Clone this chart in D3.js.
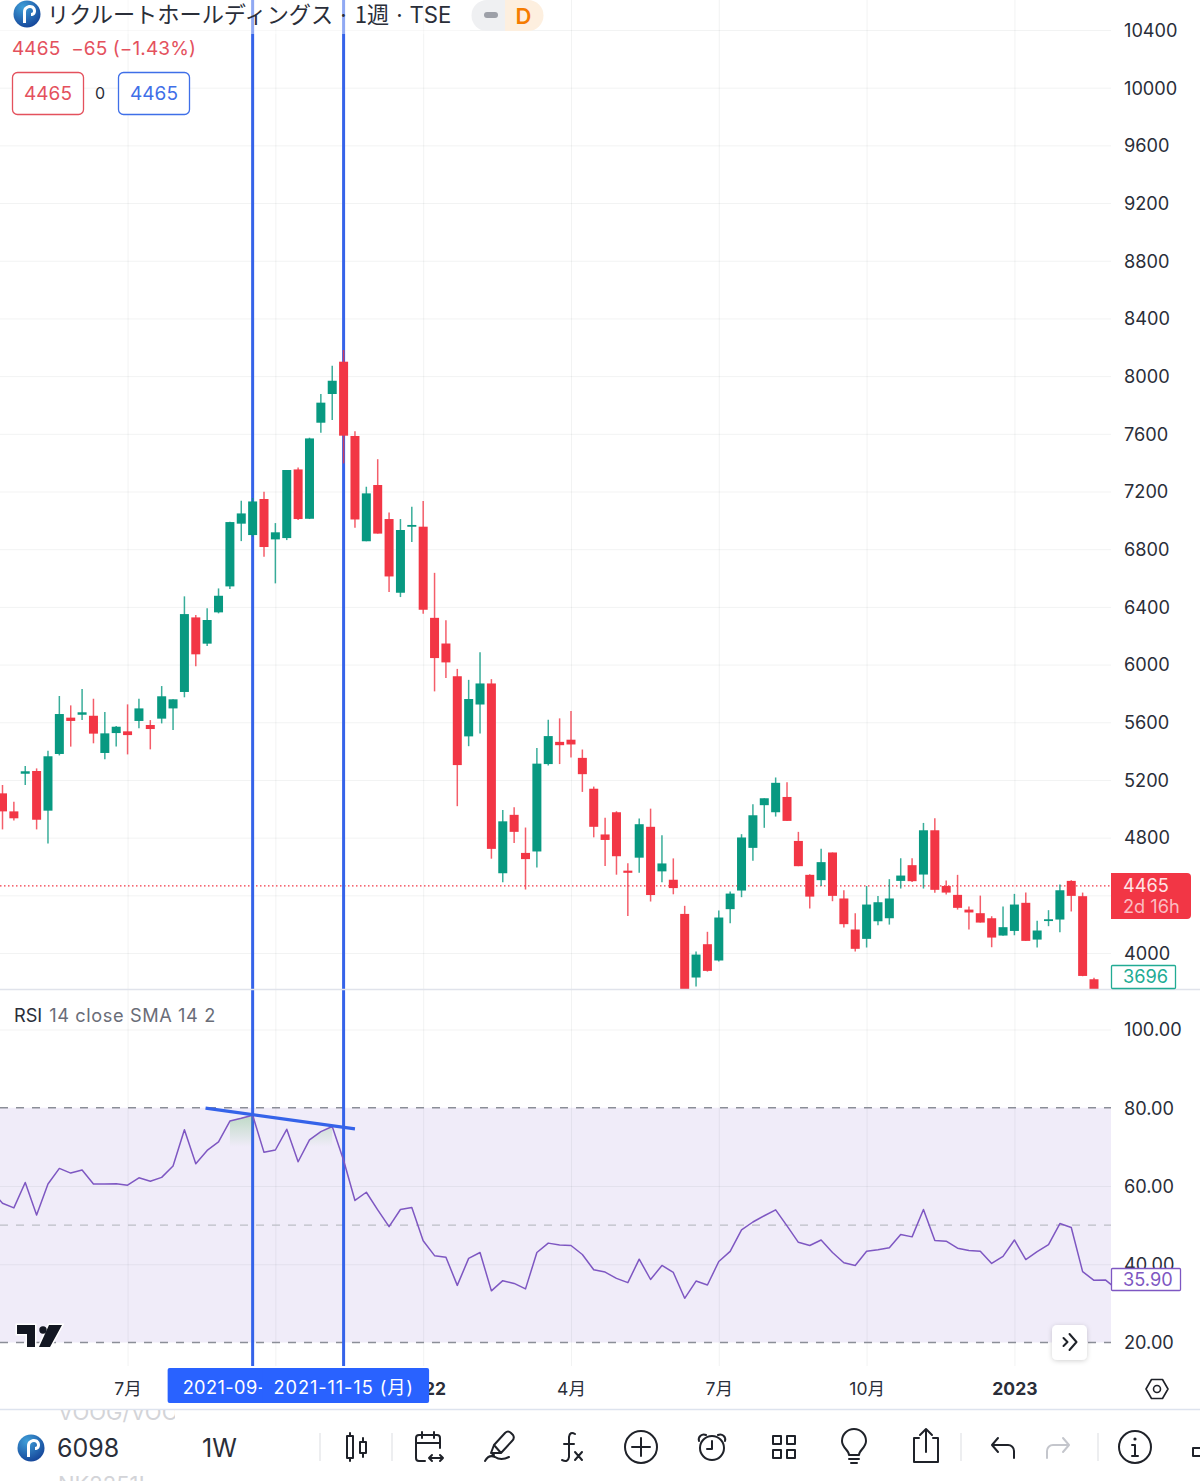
<!DOCTYPE html>
<html lang="ja">
<head>
<meta charset="utf-8">
<title>リクルートホールディングス 1週</title>
<script src="https://cdn.jsdelivr.net/npm/d3@7"></script>
<style>
  html, body { margin: 0; background: #fff; }
  svg { display: block; font-family: Inter, "Noto Sans CJK JP", sans-serif; }
  .grid line { stroke: rgba(42, 46, 57, 0.06); stroke-width: 1; }
  .grid path, .axis path { display: none; }
  .axis text { font-family: Inter, "Noto Sans CJK JP", sans-serif; font-size: 18.2px; fill: #2a2e39; }
  .icon { fill: none; stroke: #1f2229; stroke-width: 2; stroke-linecap: round; stroke-linejoin: round; }
</style>
</head>
<body>
<div id="chart"></div>
<script>
// Weekly candles, left to right, starting with the week of 2021-04-19
const candleOpen = [
  5107, 4982, 5243, 5262, 4987, 5380, 5632, 5652, 5645, 5387,
  5525, 5537, 5609, 5581, 5625, 5696, 5810, 6327, 6145, 6362,
  6542, 6977, 6898, 7148, 6868, 6877, 7353, 7011, 7677, 7876,
  8100, 7585, 6855, 7245, 7009, 6498, 6961, 6956, 6324, 6146,
  5919, 5502, 5723, 5869, 4553, 4958, 4694, 4704, 5310, 5464,
  5479, 5353, 5139, 4822, 4976, 4571, 4661, 4875, 4566, 4508,
  4271, 3830, 4061, 3948, 4304, 4433, 4729, 5025, 4976, 5082,
  4777, 4542, 4505, 4697, 4378, 4163, 4098, 4220, 4241, 4500,
  4609, 4544, 4851, 4465, 4403, 4301, 4276, 4241, 4121, 4153,
  4348, 4093, 4225, 4232, 4500, 4394, 3818
];
const candleHigh = [
  5165, 5049, 5297, 5280, 5403, 5782, 5717, 5830, 5763, 5671,
  5574, 5724, 5763, 5615, 5851, 5759, 6473, 6343, 6390, 6528,
  6991, 7136, 7155, 7198, 6981, 7349, 7367, 7573, 7876, 8072,
  8181, 7617, 7233, 7424, 7054, 7009, 7094, 7134, 6636, 6307,
  5970, 5894, 6085, 5899, 4991, 5011, 4870, 5421, 5617, 5627,
  5678, 5411, 5154, 4938, 4983, 4623, 4933, 5001, 4817, 4656,
  4327, 4010, 4147, 4294, 4426, 4824, 5032, 5073, 5217, 5184,
  4840, 4546, 4722, 4697, 4435, 4276, 4465, 4396, 4512, 4657,
  4657, 4902, 4935, 4502, 4542, 4322, 4398, 4255, 4322, 4410,
  4419, 4223, 4297, 4475, 4505, 4419, 3828
];
const candleLow = [
  4857, 4918, 5165, 4857, 4760, 5370, 5431, 5615, 5454, 5343,
  5431, 5377, 5558, 5412, 5592, 5546, 5773, 5988, 6129, 6355,
  6524, 6856, 6887, 6748, 6563, 6863, 7002, 7009, 7608, 7695,
  7395, 6948, 6855, 6908, 6503, 6468, 6850, 6352, 5814, 5907,
  5018, 5434, 5522, 4654, 4490, 4762, 4440, 4593, 5300, 5310,
  5356, 5117, 4802, 4603, 4543, 4256, 4556, 4357, 4490, 4407,
  3650, 3768, 3871, 3941, 4207, 4387, 4639, 4868, 4946, 4916,
  4602, 4308, 4465, 4359, 4177, 4010, 4038, 4193, 4197, 4447,
  4493, 4447, 4417, 4405, 4301, 4163, 4211, 4040, 4119, 4123,
  4084, 4038, 4186, 4144, 4288, 3839, 3696
];
const candleClose = [
  4982, 4934, 5260, 4924, 5364, 5657, 5609, 5669, 5521, 5523,
  5569, 5511, 5696, 5553, 5780, 5759, 6350, 6071, 6309, 6477,
  6988, 7048, 7131, 6815, 6917, 7349, 7009, 7568, 7816, 7968,
  7587, 7006, 7187, 6908, 6611, 6933, 6968, 6380, 6045, 6015,
  5303, 5761, 5869, 4722, 4913, 4840, 4651, 5313, 5504, 5441,
  5446, 5240, 4875, 4784, 4671, 4556, 4893, 4402, 4621, 4450,
  3700, 3989, 3876, 4246, 4412, 4801, 4955, 5073, 5180, 4916,
  4602, 4391, 4630, 4396, 4200, 4029, 4336, 4352, 4378, 4537,
  4498, 4851, 4438, 4419, 4313, 4281, 4211, 4107, 4179, 4336,
  4084, 4156, 4234, 4435, 4396, 3841, 3696
];

// RSI starts one week before the first candle and runs on past the last visible one
const rsiValues = [
  58.9, 55.6, 54.4, 60.9, 52.6, 60.5, 64.5, 63.3, 64.1, 60.5,
  60.5, 60.6, 60.2, 62.1, 61.2, 62.2, 65.1, 74.4, 65.7, 69.1,
  71.3, 76.6, 77.3, 78.1, 68.6, 69.2, 74.5, 66.2, 71.8, 73.9,
  75.2, 66.6, 56.3, 58.4, 53.9, 49.6, 54.0, 54.5, 46.0, 42.2,
  41.8, 34.6, 41.5, 43.0, 33.2, 35.8, 35.1, 33.7, 43.0, 45.4,
  44.9, 44.8, 42.5, 38.6, 38.0, 36.4, 35.3, 41.3, 36.1, 39.7,
  37.9, 31.3, 35.7, 34.7, 40.7, 43.3, 48.8, 50.8, 52.4, 53.9,
  49.8, 45.6, 44.8, 46.2, 43.0, 40.4, 39.7, 43.3, 43.7, 44.2,
  47.6, 47.0, 54.0, 46.1, 45.9, 44.1, 43.5, 43.3, 40.2, 42.0,
  46.2, 41.2, 43.2, 45.0, 50.4, 49.4, 38.1, 35.9, 36.0, 33.6
];

const priceTicks = [10400, 10000, 9600, 9200, 8800, 8400, 8000, 7600, 7200, 6800, 6400, 6000, 5600, 5200, 4800, 4000];
const priceGridTicks = [10400, 10000, 9600, 9200, 8800, 8400, 8000, 7600, 7200, 6800, 6400, 6000, 5600, 5200, 4800, 4400, 4000];
const rsiTicks = [100, 80, 60, 40, 20];
const rsiGridTicks = [100, 60, 40];
const tickDates = ["2021-07-05", "2021-10-04", "2022-01-03", "2022-04-04", "2022-07-04", "2022-10-03", "2023-01-02"];
// the October 2021 label sits under the date flags, so it stays empty
const tickLabels = ["7月", "", "2022", "4月", "7月", "10月", "2023"];

const lastPrice = 4465;
const markerDates = ["2021-09-20", "2021-11-15"];
const markerLabels = ["2021-09-", "2021-11-15 (月)"];
const trendDates = ["2021-08-22", "2021-11-22"];
const trendValues = [79.9, 74.6];
// runs of weeks (indexes into rsiValues) with the green overbought glow
const rsiGlowRuns = [[21, 23], [28, 30]];

const width = 1200, height = 1481;
const paneRight = 1111;
const blue = "#3563e9", red = "#f23645", green = "#089981", purple = "#7e57c2";

const parseDay = d3.utcParse("%Y-%m-%d");
const firstWeek = parseDay("2021-04-19");
const weekDates = candleOpen.map((_, i) => d3.utcMonday.offset(firstWeek, i));
const rsiDates = rsiValues.map((_, i) => d3.utcMonday.offset(firstWeek, i - 1));

const x = d3.scaleUtc().domain([weekDates[0], weekDates[96]]).range([2.5, 1094]);
const priceY = d3.scaleLinear().domain([4000, 10400]).range([953, 30]);
const rsiY = d3.scaleLinear().domain([20, 100]).range([1342.5, 1029.5]);

const svg = d3.select("#chart").append("svg").attr("width", width).attr("height", height);
const defs = svg.append("defs");

defs.append("clipPath").attr("id", "price-clip").append("rect")
  .attr("width", paneRight).attr("height", 989);
defs.append("clipPath").attr("id", "rsi-clip").append("rect")
  .attr("y", 990).attr("width", paneRight).attr("height", 400);
defs.append("clipPath").attr("id", "ghost-clip").append("rect")
  .attr("y", 1410).attr("width", 175).attr("height", 71);

const glow = defs.append("linearGradient").attr("id", "rsi-glow")
  .attr("gradientUnits", "userSpaceOnUse")
  .attr("x1", 0).attr("x2", 0).attr("y1", rsiY(78)).attr("y2", rsiY(70));
glow.append("stop").attr("offset", 0).attr("stop-color", "#4caf50").attr("stop-opacity", 0.3);
glow.append("stop").attr("offset", 1).attr("stop-color", "#4caf50").attr("stop-opacity", 0);

const logoFill = defs.append("radialGradient").attr("id", "logo-fill")
  .attr("cx", "35%").attr("cy", "25%").attr("r", "85%");
logoFill.append("stop").attr("offset", 0).attr("stop-color", "#3f9fd8");
logoFill.append("stop").attr("offset", 1).attr("stop-color", "#123f95");

const shadow = defs.append("filter").attr("id", "soft-shadow")
  .attr("x", "-30%").attr("y", "-30%").attr("width", "160%").attr("height", "160%");
shadow.append("feDropShadow").attr("dx", 0).attr("dy", 1).attr("stdDeviation", 2.5)
  .attr("flood-color", "#000").attr("flood-opacity", 0.18);

// ---- grids and RSI band ----
svg.append("rect").attr("y", rsiY(80)).attr("width", paneRight)
  .attr("height", rsiY(20) - rsiY(80)).attr("fill", "#f0ecf9");

svg.append("g").attr("class", "grid")
  .attr("transform", `translate(${paneRight},0)`)
  .call(d3.axisLeft(priceY).tickValues(priceGridTicks).tickSize(paneRight).tickFormat(""));

svg.append("g").attr("class", "grid")
  .attr("transform", `translate(${paneRight},0)`)
  .call(d3.axisLeft(rsiY).tickValues(rsiGridTicks).tickSize(paneRight).tickFormat(""));

svg.append("g").attr("class", "grid")
  .attr("transform", "translate(0,1366)")
  .call(d3.axisBottom(x).tickValues(tickDates.map(parseDay)).tickSize(-1366).tickFormat(""));

[[80, "#8b8e98"], [50, "#bcbec6"], [20, "#8b8e98"]].forEach(([level, colour]) => {
  svg.append("line")
    .attr("x1", 0).attr("x2", paneRight)
    .attr("y1", rsiY(level)).attr("y2", rsiY(level))
    .attr("stroke", colour).attr("stroke-width", 1.4).attr("stroke-dasharray", "8 8");
});

// ---- last price line ----
svg.append("line")
  .attr("x1", 0).attr("x2", paneRight)
  .attr("y1", priceY(lastPrice)).attr("y2", priceY(lastPrice))
  .attr("stroke", red).attr("stroke-width", 1.3).attr("stroke-dasharray", "1.5 2.5");

// ---- the two vertical markers ----
markerDates.map(parseDay).forEach(day => {
  svg.append("line")
    .attr("x1", x(day)).attr("x2", x(day))
    .attr("y1", 0).attr("y2", 1366)
    .attr("stroke", blue).attr("stroke-width", 3);
});

// ---- candles ----
const candles = candleOpen.map((open, i) => ({
  date: weekDates[i], open, high: candleHigh[i], low: candleLow[i], close: candleClose[i]
}));
const candleColour = d => d.close >= d.open ? green : red;

const candleG = svg.append("g").attr("clip-path", "url(#price-clip)");

candleG.selectAll("line.wick")
  .data(candles)
  .enter()
  .append("line")
  .attr("class", "wick")
  .attr("x1", d => x(d.date))
  .attr("x2", d => x(d.date))
  .attr("y1", d => priceY(d.high))
  .attr("y2", d => priceY(d.low))
  .attr("stroke", candleColour)
  .attr("stroke-width", 1.5)
  .attr("opacity", 0.8);

candleG.selectAll("rect.body")
  .data(candles)
  .enter()
  .append("rect")
  .attr("class", "body")
  .attr("x", d => x(d.date) - 4.5)
  .attr("width", 9)
  .attr("y", d => priceY(Math.max(d.open, d.close)))
  .attr("height", d => Math.max(1.8, Math.abs(priceY(d.open) - priceY(d.close))))
  .attr("fill", candleColour);

// ---- RSI ----
const rsiPoints = rsiValues.map((value, i) => ({ date: rsiDates[i], value }));
const rsiG = svg.append("g").attr("clip-path", "url(#rsi-clip)");

const glowArea = d3.area()
  .x(d => x(d.date))
  .y0(rsiY(70))
  .y1(d => rsiY(d.value));
rsiGlowRuns.forEach(([from, to]) => {
  rsiG.append("path")
    .attr("d", glowArea(rsiPoints.slice(from, to + 1)))
    .attr("fill", "url(#rsi-glow)");
});

rsiG.append("path")
  .attr("d", d3.line().x(d => x(d.date)).y(d => rsiY(d.value))(rsiPoints))
  .attr("fill", "none")
  .attr("stroke", purple)
  .attr("stroke-width", 1.5)
  .attr("stroke-linejoin", "round");

// hand-drawn trend line across the two RSI peaks
svg.append("line")
  .attr("x1", x(parseDay(trendDates[0]))).attr("y1", rsiY(trendValues[0]))
  .attr("x2", x(parseDay(trendDates[1]))).attr("y2", rsiY(trendValues[1]))
  .attr("stroke", blue).attr("stroke-width", 3.4);

// pane separator
svg.append("line")
  .attr("x1", 0).attr("x2", width).attr("y1", 989.5).attr("y2", 989.5)
  .attr("stroke", "#e0e3eb").attr("stroke-width", 1.5);

// ---- value axes ----
svg.append("g").attr("class", "axis")
  .attr("transform", `translate(${paneRight},0.5)`)
  .call(d3.axisRight(priceY).tickValues(priceTicks).tickSize(0).tickPadding(13).tickFormat(d3.format("d")));

svg.append("g").attr("class", "axis")
  .attr("transform", `translate(${paneRight},0.5)`)
  .call(d3.axisRight(rsiY).tickValues(rsiTicks).tickSize(0).tickPadding(13).tickFormat(d3.format(".2f")));

// ---- time axis ----
const timeAxis = svg.append("g").attr("class", "axis")
  .attr("transform", "translate(0,1389)")
  .call(d3.axisBottom(x).tickValues(tickDates.map(parseDay)).tickSize(0)
    .tickFormat((d, i) => tickLabels[i]));
timeAxis.selectAll("text")
  .attr("dy", "0.36em").attr("y", 0)
  .style("font-size", "17.5px")
  .style("font-weight", (d, i) => /^\d{4}$/.test(tickLabels[i]) ? 700 : 400);

// date flags on the axis, the later one on top and hiding the end of the earlier one
markerDates.map(parseDay).forEach((day, i) => {
  svg.append("rect")
    .attr("x", x(day) - (i === 0 ? 85 : 81.5)).attr("y", 1368)
    .attr("width", i === 0 ? 170 : 167).attr("height", 35)
    .attr("rx", 2).attr("fill", "#2962ff");
  svg.append("text")
    .attr("x", x(day) - 70).attr("y", 1394)
    .attr("font-size", 18.2).attr("fill", "#fff")
    .attr("letter-spacing", i === 0 ? 0.4 : 0.9)
    .text(markerLabels[i]);
});

// ---- price labels on the right ----
svg.append("path")
  .attr("d", "M1111 873H1187a4 4 0 0 1 4 4V915a4 4 0 0 1-4 4H1111Z")
  .attr("fill", red);
svg.append("text").attr("x", 1123).attr("y", 892).attr("font-size", 18.2).attr("fill", "#ffe3e5").text(lastPrice);
svg.append("text").attr("x", 1123).attr("y", 913).attr("font-size", 18.2).attr("fill", "#fbbcc2").text("2d 16h");

svg.append("rect").attr("x", 1111.5).attr("y", 965.5).attr("width", 64).attr("height", 23)
  .attr("rx", 1).attr("fill", "#fff").attr("stroke", "#22ab94").attr("stroke-width", 1.3);
svg.append("text").attr("x", 1123).attr("y", 983).attr("font-size", 18.2).attr("fill", "#22ab94").text("3696");

svg.append("rect").attr("x", 1111.5).attr("y", 1268.5).attr("width", 69).attr("height", 22)
  .attr("rx", 1).attr("fill", "#fff").attr("stroke", purple).attr("stroke-width", 1.3);
svg.append("text").attr("x", 1123).attr("y", 1286).attr("font-size", 18.2).attr("fill", purple).text("35.90");

// ---- header ----
svg.append("rect").attr("width", 470).attr("height", 34).attr("fill", "rgba(255,255,255,0.45)");

function drawLogo(cx, cy) {
  svg.append("circle").attr("cx", cx).attr("cy", cy).attr("r", 13.5).attr("fill", "url(#logo-fill)");
  svg.append("path")
    .attr("transform", `translate(${cx},${cy})`)
    .attr("d", "M-4 9V-2C-4 -7 0 -9 3 -9C7 -9 9 -6 9 -3C9 0 7 2 4 2V-1C5.5 -1 6 -2 6 -3C6 -5 4.5 -6 3 -6C1 -6 -1 -5 -1 -2V9Z")
    .attr("fill", "#fff");
}
drawLogo(27, 14);

const headerTitle = svg.append("text").attr("x", 47).attr("y", 23)
  .attr("font-family", '"Noto Sans CJK JP", sans-serif')
  .attr("font-size", 22.2).attr("fill", "#2a2e39");
headerTitle.append("tspan").text("リクルートホールディングス");
headerTitle.append("tspan").attr("font-family", "Inter").attr("dx", 7).text("·");
headerTitle.append("tspan").attr("dx", 8).text("1週");
headerTitle.append("tspan").attr("font-family", "Inter").attr("dx", 7).text("·");
headerTitle.append("tspan").attr("font-family", "Inter").attr("dx", 7).text("TSE");

// market status pill
svg.append("path").attr("d", "M505 0H487a15.5 15.5 0 0 0 0 31H505Z").attr("fill", "#eff0f2");
svg.append("path").attr("d", "M505 0H528a15.5 15.5 0 0 1 0 31H505Z").attr("fill", "#fdefdf");
svg.append("rect").attr("x", 484).attr("y", 12).attr("width", 14).attr("height", 6).attr("rx", 3).attr("fill", "#9da0a8");
svg.append("text").attr("x", 523.5).attr("y", 23.5).attr("text-anchor", "middle")
  .attr("font-size", 22).attr("font-weight", 600).attr("fill", "#f57c00").text("D");

// OHLC style legend
svg.append("text").attr("x", 12).attr("y", 55).attr("font-size", 19).attr("fill", "#e4515d")
  .attr("xml:space", "preserve").attr("letter-spacing", 0.1).text("4465  −65 (−1.43%)");

[[12, 71, "#e4515d", "4465"], [118, 71, "#3f6fe8", "4465"]].forEach(([bx, bw, colour, label]) => {
  svg.append("rect").attr("x", bx + 0.5).attr("y", 72.5).attr("width", bw).attr("height", 42)
    .attr("rx", 5).attr("fill", "#fff").attr("stroke", colour).attr("stroke-width", 1.3);
  svg.append("text").attr("x", bx + bw / 2 + 0.5).attr("y", 100).attr("text-anchor", "middle")
    .attr("font-size", 19).attr("fill", colour).text(label);
});
svg.append("text").attr("x", 100).attr("y", 99).attr("text-anchor", "middle")
  .attr("font-size", 16).attr("fill", "#2a2e39").text("0");

// RSI legend
const rsiTitle = svg.append("text").attr("x", 14).attr("y", 1022).attr("font-size", 18.2);
rsiTitle.append("tspan").attr("fill", "#2a2e39").text("RSI");
rsiTitle.append("tspan").attr("fill", "#6a6d78").attr("dx", 7).attr("letter-spacing", 0.6).text("14 close SMA 14 2");

// ---- watermark ----
svg.append("path")
  .attr("d", "M17 1325H35V1347H27V1334H17Z M49 1325H62L50 1347H39Z")
  .attr("fill", "#131722").attr("stroke", "#fff").attr("stroke-width", 3).attr("paint-order", "stroke");
svg.append("circle").attr("cx", 43).attr("cy", 1330).attr("r", 3.7).attr("fill", "#131722");

// ---- scroll-to-latest button ----
svg.append("rect").attr("x", 1052).attr("y", 1325).attr("width", 35).attr("height", 35)
  .attr("rx", 5).attr("fill", "#fff").attr("filter", "url(#soft-shadow)");

// icons are plain outlines centred on (cx, cy)
function icon(cx, cy, d, colour) {
  const g = svg.append("path").attr("class", "icon")
    .attr("transform", `translate(${cx},${cy})`).attr("d", d);
  if (colour) g.style("stroke", colour);
  return g;
}
icon(1069.5, 1342, "M-6 -4L-2 0L-6 4M0 -8L7 0L0 8");

// settings hexagon beside the time axis
icon(1157, 1389, "M-11 0L-5.5 -9.5H5.5L11 0L5.5 9.5H-5.5Z M3.5 0A3.5 3.5 0 1 1 -3.5 0A3.5 3.5 0 1 1 3.5 0").style("stroke-width", 1.6);

// ---- bottom toolbar ----
svg.append("line").attr("x1", 0).attr("x2", width).attr("y1", 1409.5).attr("y2", 1409.5)
  .attr("stroke", "#dde3ee").attr("stroke-width", 1.3);

const ghost = svg.append("g").attr("clip-path", "url(#ghost-clip)")
  .attr("font-size", 22).attr("fill", "#d3d4d8");
ghost.append("text").attr("x", 58).attr("y", 1420).text("VOOG/VOO");
ghost.append("text").attr("x", 58).attr("y", 1492).text("NK2251!");

drawLogo(31, 1448);
svg.append("text").attr("x", 57).attr("y", 1457).attr("font-size", 25).attr("fill", "#2a2e39").text("6098");
svg.append("text").attr("x", 202).attr("y", 1457).attr("font-size", 25).attr("fill", "#2a2e39").text("1W");

[320, 392, 961, 1098].forEach(sepX => {
  svg.append("line").attr("x1", sepX).attr("x2", sepX).attr("y1", 1433).attr("y2", 1461)
    .attr("stroke", "#e4e5e8").attr("stroke-width", 1.3);
});

icon(357, 1447, "M-7 -14V-11M-7 11V14M-10 -11H-4V11H-10Z M6 -9V-5M6 6V10M3 -5H9V6H3Z");
icon(428, 1446, "M-3 15H-9a3 3 0 0 1-3-3V-8a3 3 0 0 1 3-3H9a3 3 0 0 1 3 3V2M-12 -3H12M-6 -14V-8M6 -14V-8M1 12H15M4 9L1 12L4 15M12 9L15 12L12 15");
icon(500, 1446, "M-9 7L-6 -1L5 -13Q8 -16 11 -13L13 -11Q15 -8 12 -5L1 7Z M-6 -1L1 7M-9 7L-6 9M-15 15Q-11 8 -5 11Q1 15 9 11");
icon(570, 1447, "M5 -13Q0 -16 -1 -10V10Q-2 16 -8 13M-6 -3H4M5 5L12 13M12 5L5 13");
icon(641, 1447, "M16 0A16 16 0 1 1 -16 0A16 16 0 1 1 16 0M-9 0H9M0 -9V9");
icon(712, 1447, "M12 1A12 12 0 1 1 -12 1A12 12 0 1 1 12 1M0 -6V2H-5M-13 -6A5 5 0 0 1 -6 -12M13 -6A5 5 0 0 0 6 -12");
icon(784, 1447, "M-11 -11H-3V-3H-11ZM3 -11H11V-3H3ZM-11 3H-3V11H-11ZM3 3H11V11H3Z");
icon(854, 1447, "M-5 8C-5 3 -12 1 -12 -6A12 12 0 0 1 12 -6C12 1 5 3 5 8ZM-5 12H5M-3 16H3");
icon(926, 1446, "M-7 -8H-12V16H12V-8H7M0 6V-17M-6 -11L0 -17L6 -11");
icon(1003, 1447, "M11 11V4A6 6 0 0 0 5 -2H-11M-5 -9L-11 -2L-5 5");
icon(1058, 1447, "M-11 11V4A6 6 0 0 1 -5 -2H11M5 -9L11 -2L5 5", "#c4c6cc");
icon(1135, 1447, "M16 0A16 16 0 1 1 -16 0A16 16 0 1 1 16 0M0 -2V9M-3 9H3M-3 -2H0");
svg.append("circle").attr("cx", 1135).attr("cy", 1439).attr("r", 1.6).attr("fill", "#1f2229");
icon(1197, 1448, "M-4 0H4V8H-4ZM4 -10H12V8H4Z");
</script>
</body>
</html>
